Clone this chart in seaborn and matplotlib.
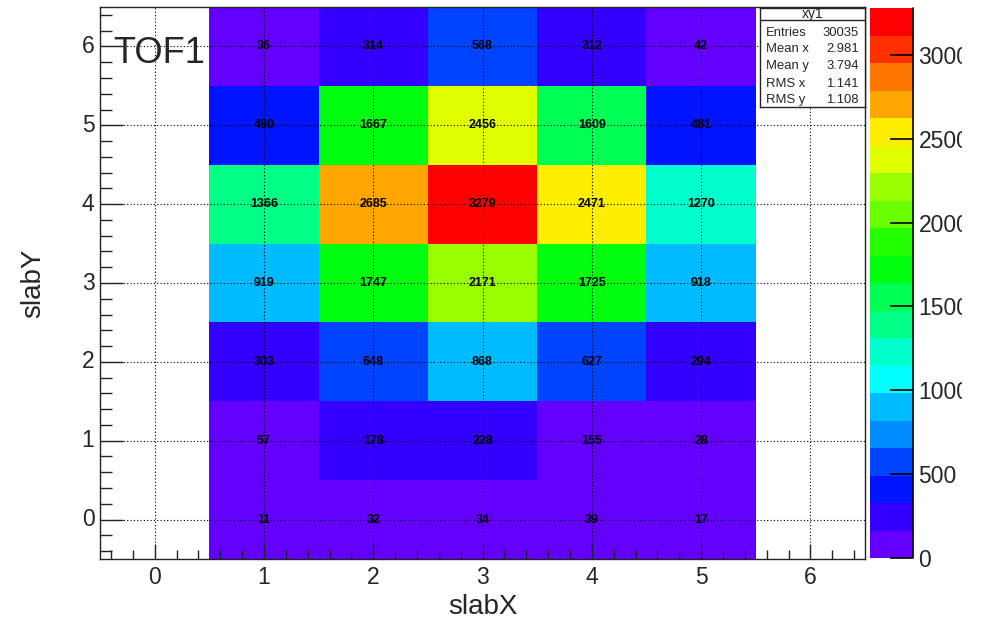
import colorsys

import matplotlib
matplotlib.use("Agg")
import matplotlib.pyplot as plt
from matplotlib.colors import ListedColormap
from matplotlib.patches import Rectangle
from matplotlib.ticker import MultipleLocator
from matplotlib.transforms import Affine2D
import numpy as np
import pandas as pd
import seaborn as sns

# ---- data: TOF1 hit counts per slab (rows = slabY, columns = slabX) ----
slab_x = [1, 2, 3, 4, 5]
slab_y = [0, 1, 2, 3, 4, 5, 6]
row_y0 = [11, 32, 34, 39, 17]
row_y1 = [57, 178, 228, 155, 28]
row_y2 = [303, 648, 868, 627, 294]
row_y3 = [919, 1747, 2171, 1725, 918]
row_y4 = [1366, 2685, 3279, 2471, 1270]
row_y5 = [480, 1667, 2456, 1609, 481]
row_y6 = [36, 314, 568, 312, 42]
axis_ticks = [0, 1, 2, 3, 4, 5, 6]
z_ticks = [0, 500, 1000, 1500, 2000, 2500, 3000]

counts = pd.DataFrame(
    [row_y0, row_y1, row_y2, row_y3, row_y4, row_y5, row_y6],
    index=slab_y, columns=slab_x,
)

# ---- histogram statistics ----
w = counts.values.astype(float)
xs = np.array(slab_x, dtype=float)[None, :]
ys = np.array(slab_y, dtype=float)[:, None]
entries = int(w.sum())
mean_x = (w * xs).sum() / w.sum()
mean_y = (w * ys).sum() / w.sum()
rms_x = np.sqrt((w * xs ** 2).sum() / w.sum() - mean_x ** 2)
rms_y = np.sqrt((w * ys ** 2).sum() / w.sum() - mean_y ** 2)

# ---- 20-level rainbow palette (violet -> red) ----
n_levels = 20
n_pretty = 50
pal = []
for j in range(n_levels):
    k = int((j + 0.99) * n_pretty / n_levels)
    hue = 280.0 - (k + 1) * (280.0 / n_pretty)
    pal.append(colorsys.hls_to_rgb(hue / 360.0, 0.5, 1.0))
cmap = ListedColormap(pal)

sns.set_style("white")
plt.rcParams["font.family"] = ["Liberation Sans", "DejaVu Sans"]

W, H = 986, 625
fig = plt.figure(figsize=(W / 100, H / 100), dpi=100)
ax_l, ax_r, ax_t, ax_b = 100, 865, 7, 559
ax = fig.add_axes([ax_l / W, (H - ax_b) / H, (ax_r - ax_l) / W, (ax_b - ax_t) / H])
cax = fig.add_axes([870 / W, (H - 558) / H, 43 / W, (558 - 8) / H])

sns.heatmap(
    counts, ax=ax, cbar_ax=cax, cmap=cmap, vmin=0, vmax=float(w.max()),
    annot=True, fmt="d", linewidths=0,
    annot_kws={"color": "black", "fontsize": 9, "fontweight": "bold"},
)

# place the cells on the real slab coordinates (cells centred on integers)
shift = Affine2D().translate(0.5, -0.5) + ax.transData
ax.collections[0].set_transform(shift)
for t in ax.texts:
    t.set_transform(shift)

ax.set_xlim(-0.5, 6.5)
ax.set_ylim(-0.5, 6.5)
ax.set_xticks(axis_ticks)
ax.set_yticks(axis_ticks)
ax.set_xticklabels([str(v) for v in axis_ticks], rotation=0)
ax.set_yticklabels([str(v) for v in axis_ticks], rotation=0)
ax.xaxis.set_minor_locator(MultipleLocator(0.2))
ax.yaxis.set_minor_locator(MultipleLocator(0.2))
ax.tick_params(axis="x", which="major", direction="in", length=10.5, width=1,
               labelsize=16.5, pad=5, bottom=True, top=False, color="#222222")
ax.tick_params(axis="x", which="minor", direction="in", length=6.5, width=1,
               bottom=True, top=False, color="#222222")
ax.tick_params(axis="y", which="major", direction="in", length=16.5, width=1,
               labelsize=16.5, pad=4, left=True, right=False, color="#222222")
ax.tick_params(axis="y", which="minor", direction="in", length=8.5, width=1,
               left=True, right=False, color="#222222")

ax.set_axisbelow(False)
ax.grid(True, which="major", color="black", linestyle=(0, (1, 2)), linewidth=0.8)
for s in ax.spines.values():
    s.set_visible(True)
    s.set_color("#222222")
    s.set_linewidth(1.0)

ax.set_xlabel("slabX", fontsize=20)
ax.set_ylabel("slabY", fontsize=20)
ax.xaxis.set_label_coords(0.5, -(607 - ax_b) / (ax_b - ax_t))
ax.xaxis.label.set_va("center")
ax.yaxis.set_label_coords(-(ax_l - 33) / (ax_r - ax_l), 0.5)
ax.yaxis.label.set_va("center")

# colour scale
cbar = ax.collections[0].colorbar
cbar.set_ticks(z_ticks)
cbar.set_ticklabels([str(v) for v in z_ticks])
cbar.outline.set_visible(False)
cax.set_axisbelow(False)
cax.tick_params(direction="in", length=16.5, width=1.2, labelsize=16.5, pad=4,
                color="black", right=True, left=False)
cax.plot([1, 1], [0, 1], transform=cax.transAxes, color="black", lw=1.2,
         clip_on=False)

# the canvas ends just past the colour-scale labels
fig.patches.append(Rectangle((962 / W, 0), (W - 962) / W, 1, transform=fig.transFigure,
                             facecolor="white", edgecolor="none", zorder=10))

# title inside the frame
fig.text(113 / W, (H - 63) / H, "TOF1", fontsize=26, ha="left", va="baseline")

# statistics box
bx0, bx1, by0, by1 = 760, 865, 8, 107
sax = fig.add_axes([bx0 / W, (H - by1) / H, (bx1 - bx0) / W, (by1 - by0) / H])
sax.set_xlim(0, 1)
sax.set_ylim(0, 1)
sax.set_xticks([])
sax.set_yticks([])
sax.set_facecolor("white")
for s in sax.spines.values():
    s.set_visible(True)
    s.set_color("#222222")
    s.set_linewidth(1.0)
line_y = (by1 - 20) / (by1 - by0)
sax.plot([0, 1], [line_y, line_y], color="#222222", lw=1.0)
sax.text(0.5, (by1 - 14) / (by1 - by0), "xy1", ha="center", va="center", fontsize=10)
stat_rows = [
    ("Entries", f"{entries}"),
    ("Mean x", f"{mean_x:.3f}"),
    ("Mean y", f"{mean_y:.3f}"),
    ("RMS x", f"{rms_x:.3f}"),
    ("RMS y", f"{rms_y:.3f}"),
]
row_px = [33, 49.5, 66, 84, 100]
for (lab, val), py in zip(stat_rows, row_px):
    yy = (by1 - py) / (by1 - by0)
    sax.text(0.055, yy, lab, ha="left", va="center", fontsize=9.4)
    sax.text(0.94, yy, val, ha="right", va="center", fontsize=9.4)

fig.savefig("out.png", dpi=100)
